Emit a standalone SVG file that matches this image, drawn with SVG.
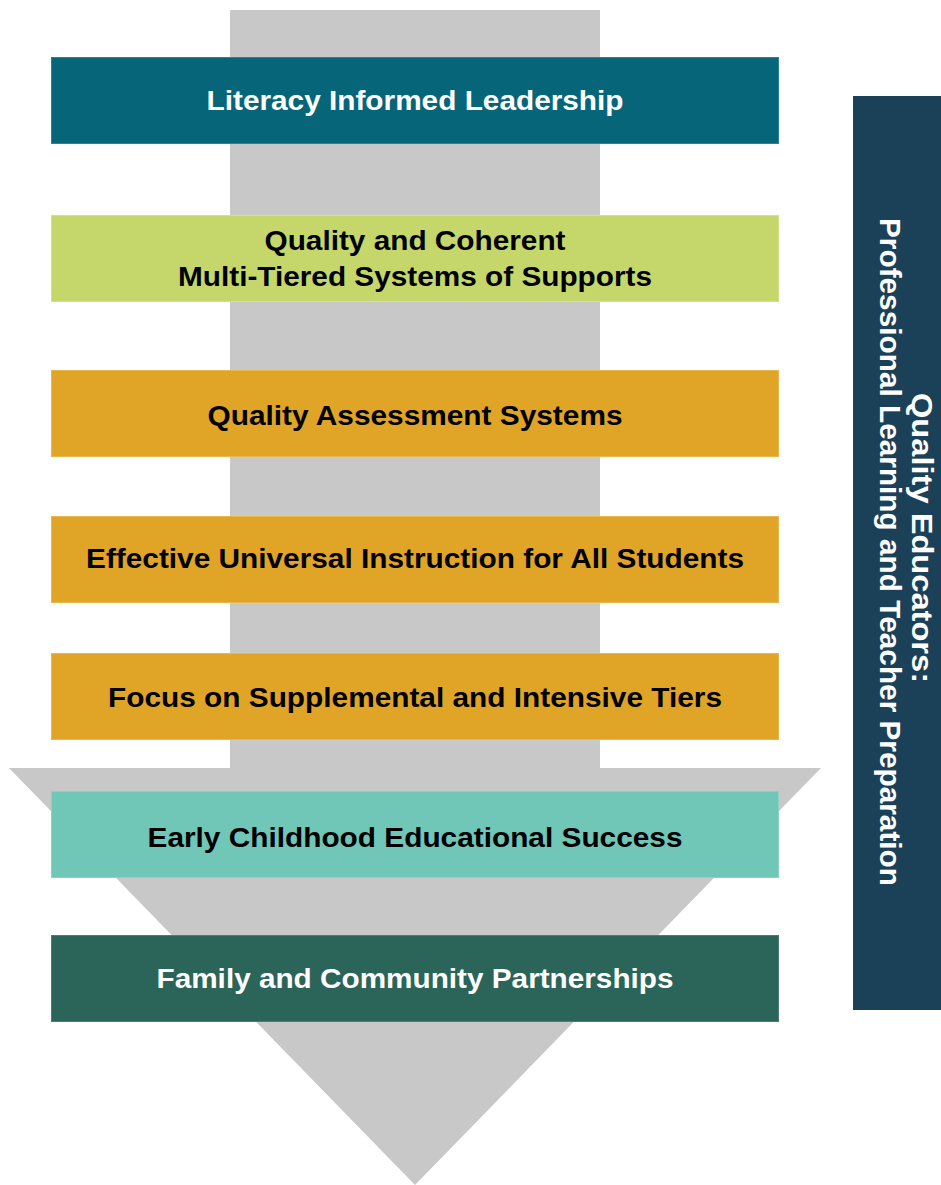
<svg xmlns="http://www.w3.org/2000/svg" width="941" height="1185" viewBox="0 0 941 1185">
  <defs>
    <style>
      .box { stroke-width: 1; }
      .lbl { font-family: "Liberation Sans Narrow", "Liberation Sans", Arial, sans-serif; font-weight: bold; font-size: 28px; text-anchor: middle; }
      .dark { fill: #000000; }
      .light { fill: #ffffff; }
      .side { font-family: "Liberation Sans", Arial, sans-serif; font-weight: bold; font-size: 29px; fill: #ffffff; }
    </style>
  </defs>
  <rect width="941" height="1185" fill="#ffffff"/>

  <!-- large downward arrow behind the stack -->
  <g id="arrow">
    <polygon points="230,10 600,10 600,768 821,768 415,1185 9,768 230,768" fill="#c8c8c8"/>
  </g>

  <g id="connectors"/>

  <g id="n1">
    <rect class="box" x="51.5" y="57.5" width="727" height="86" fill="#07657a" stroke="#2a8397"/>
    <text class="lbl light" x="415" y="110" textLength="417" lengthAdjust="spacingAndGlyphs">Literacy Informed Leadership</text>
  </g>

  <g id="n2">
    <rect class="box" x="51.5" y="215.5" width="727" height="86" fill="#c5d76a" stroke="#d3e18a"/>
    <text class="lbl dark" x="415" y="250" textLength="301" lengthAdjust="spacingAndGlyphs">Quality and Coherent</text>
    <text class="lbl dark" x="415" y="286" textLength="474" lengthAdjust="spacingAndGlyphs">Multi-Tiered Systems of Supports</text>
  </g>

  <g id="n3">
    <rect class="box" x="51.5" y="370.5" width="727" height="86" fill="#e0a526" stroke="#e8b84e"/>
    <text class="lbl dark" x="415" y="425" textLength="415" lengthAdjust="spacingAndGlyphs">Quality Assessment Systems</text>
  </g>

  <g id="n4">
    <rect class="box" x="51.5" y="516.5" width="727" height="86" fill="#e0a526" stroke="#e8b84e"/>
    <text class="lbl dark" x="415" y="568" textLength="658" lengthAdjust="spacingAndGlyphs">Effective Universal Instruction for All Students</text>
  </g>

  <g id="n5">
    <rect class="box" x="51.5" y="653.5" width="727" height="86" fill="#e0a526" stroke="#e8b84e"/>
    <text class="lbl dark" x="415" y="707" textLength="614" lengthAdjust="spacingAndGlyphs">Focus on Supplemental and Intensive Tiers</text>
  </g>

  <g id="n6">
    <rect class="box" x="51.5" y="791.5" width="727" height="86" fill="#70c6b7" stroke="#8ad2c5"/>
    <text class="lbl dark" x="415" y="847" textLength="535" lengthAdjust="spacingAndGlyphs">Early Childhood Educational Success</text>
  </g>

  <g id="n7">
    <rect class="box" x="51.5" y="935.5" width="727" height="86" fill="#2b6459" stroke="#4a7d73"/>
    <text class="lbl light" x="415" y="988" textLength="517" lengthAdjust="spacingAndGlyphs">Family and Community Partnerships</text>
  </g>

  <!-- vertical side panel -->
  <g id="side">
    <rect x="853" y="96" width="88" height="914" fill="#1b4159"/>
    <text class="side" transform="translate(912,393) rotate(90)" x="0" y="0" textLength="290" lengthAdjust="spacingAndGlyphs">Quality Educators:</text>
    <text class="side" transform="translate(880,218) rotate(90)" x="0" y="0" textLength="668" lengthAdjust="spacingAndGlyphs">Professional Learning and Teacher Preparation</text>
  </g>
</svg>
